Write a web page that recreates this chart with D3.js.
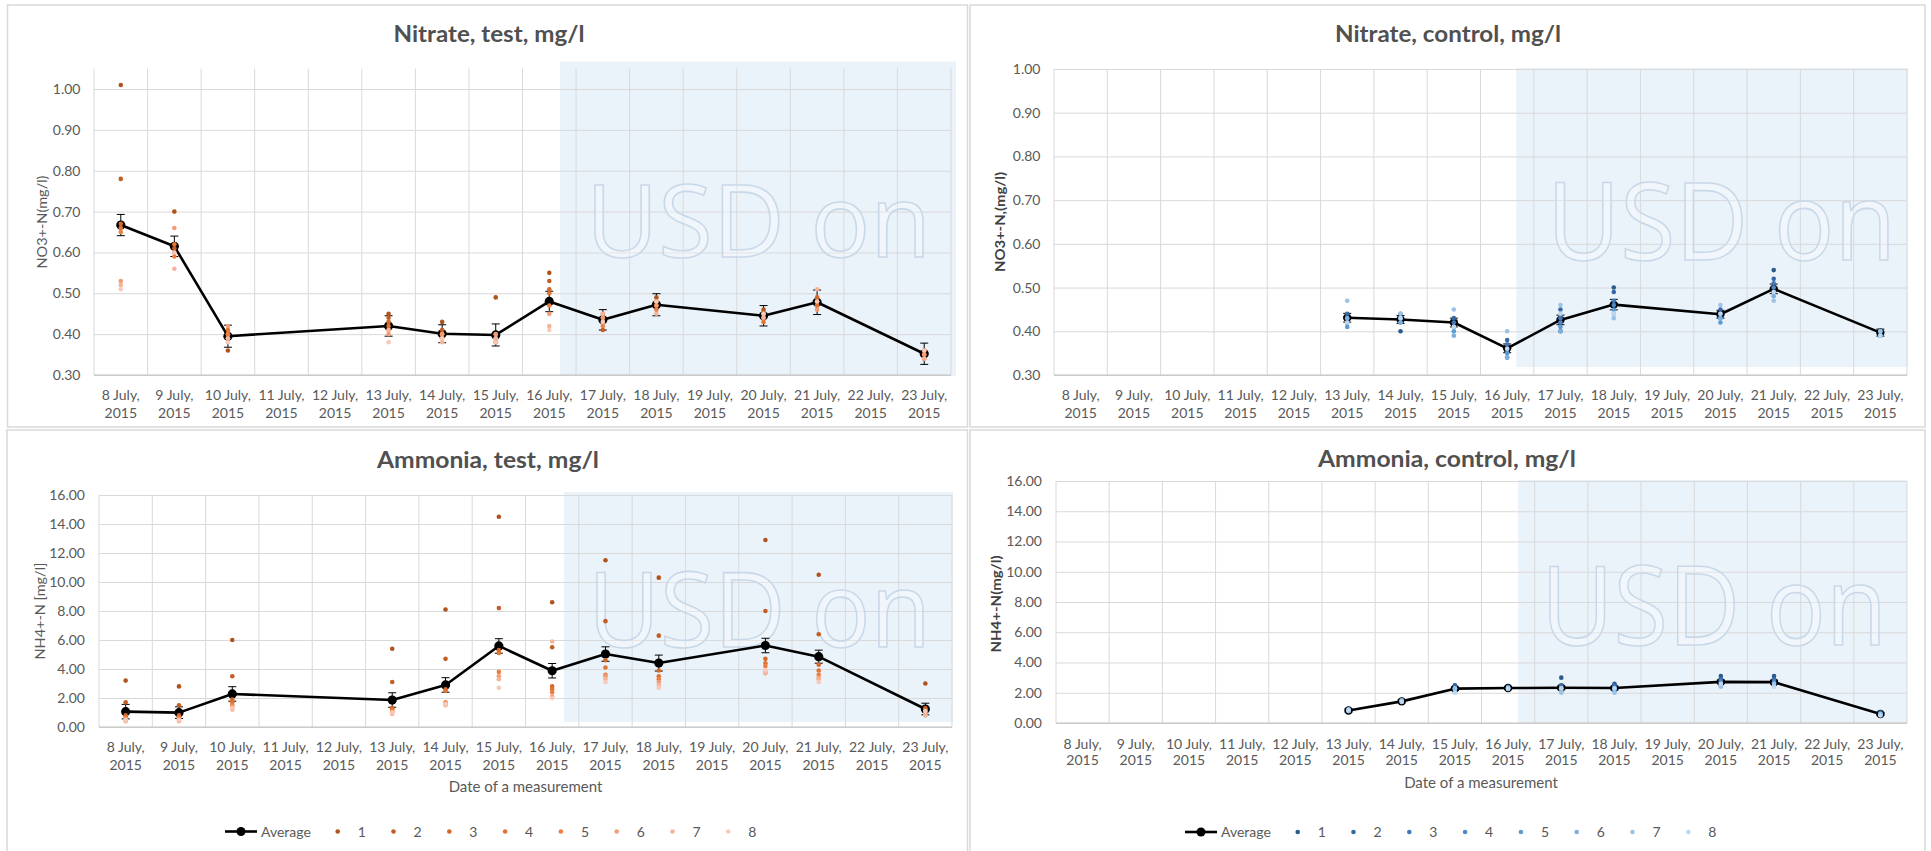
<!DOCTYPE html>
<html><head><meta charset="utf-8">
<script src="https://cdn.jsdelivr.net/npm/d3@7"></script>
<style>body{margin:0;background:#fff;overflow:hidden}</style>
</head><body>
<svg id="c" width="1931" height="851"></svg>
<script>
// ---------- DATA ----------
const categories = ["8 July, 2015","9 July, 2015","10 July, 2015","11 July, 2015","12 July, 2015","13 July, 2015","14 July, 2015","15 July, 2015","16 July, 2015","17 July, 2015","18 July, 2015","19 July, 2015","20 July, 2015","21 July, 2015","22 July, 2015","23 July, 2015"];
const seriesNames = ["Average","1","2","3","4","5","6","7","8"];
const nitrateTicks = [0.30,0.40,0.50,0.60,0.70,0.80,0.90,1.00];
const ammoniaTicks = [0,2,4,6,8,10,12,14,16];

// Nitrate, test
const nitrateTestAvg = [0.667,0.615,0.395,null,null,0.420,0.401,0.398,0.480,0.435,0.472,null,0.445,0.478,null,0.352];
const nitrateTestErr = [0.026,0.025,0.027,null,null,0.025,0.022,0.027,0.025,0.025,0.027,null,0.025,0.030,null,0.026];
const nitrateTestS1 = [1.01,0.70,0.36,null,null,0.45,0.43,0.49,0.55,0.45,0.49,null,0.46,0.47,null,0.35];
const nitrateTestS2 = [0.78,0.61,0.40,null,null,0.44,0.41,0.40,0.53,0.41,0.48,null,0.44,0.48,null,0.36];
const nitrateTestS3 = [0.67,0.60,0.39,null,null,0.43,0.40,0.38,0.51,0.43,0.47,null,0.45,0.49,null,0.34];
const nitrateTestS4 = [0.66,0.62,0.41,null,null,0.42,0.40,0.38,0.50,0.44,0.48,null,0.43,0.47,null,0.35];
const nitrateTestS5 = [0.65,0.59,0.40,null,null,0.41,0.39,0.39,0.47,0.42,0.46,null,0.44,0.48,null,0.36];
const nitrateTestS6 = [0.53,0.66,0.42,null,null,0.40,0.40,0.40,0.45,0.44,0.47,null,0.45,0.46,null,0.35];
const nitrateTestS7 = [0.52,0.56,0.39,null,null,0.41,0.38,0.39,0.42,0.45,0.45,null,0.44,0.51,null,0.34];
const nitrateTestS8 = [0.51,0.60,0.38,null,null,0.38,0.39,0.38,0.41,0.43,0.48,null,0.45,0.48,null,0.36];

// Nitrate, control
const nitrateCtrlAvg = [null,null,null,null,null,0.431,0.427,0.420,0.361,0.426,0.461,null,0.439,0.497,null,0.397];
const nitrateCtrlErr = [null,null,null,null,null,0.010,0.009,0.010,0.010,0.011,0.012,null,0.009,0.011,null,0.008];
const nitrateCtrlS1 = [null,null,null,null,null,0.42,0.40,0.41,0.34,0.40,0.50,null,0.44,0.54,null,0.40];
const nitrateCtrlS2 = [null,null,null,null,null,0.44,0.44,0.43,0.38,0.45,0.49,null,0.45,0.52,null,0.40];
const nitrateCtrlS3 = [null,null,null,null,null,0.43,0.43,0.42,0.37,0.43,0.47,null,0.44,0.51,null,0.39];
const nitrateCtrlS4 = [null,null,null,null,null,0.42,0.42,0.41,0.36,0.42,0.46,null,0.43,0.50,null,0.39];
const nitrateCtrlS5 = [null,null,null,null,null,0.41,0.43,0.40,0.35,0.41,0.45,null,0.42,0.49,null,0.40];
const nitrateCtrlS6 = [null,null,null,null,null,0.43,0.42,0.39,0.34,0.40,0.44,null,0.43,0.48,null,0.39];
const nitrateCtrlS7 = [null,null,null,null,null,0.47,0.44,0.45,0.40,0.46,0.43,null,0.46,0.47,null,0.40];
const nitrateCtrlS8 = [null,null,null,null,null,0.42,0.43,0.41,0.36,0.44,0.44,null,0.44,0.49,null,0.39];

// Ammonia, test
const ammoniaTestAvg = [1.06,0.99,2.28,null,null,1.86,2.90,5.59,3.88,5.03,4.41,null,5.62,4.85,null,1.24];
const ammoniaTestErr = [0.50,0.40,0.50,null,null,0.50,0.50,0.50,0.50,0.50,0.55,null,0.50,0.45,null,0.40];
const ammoniaTestS1 = [3.2,2.8,6.0,null,null,5.4,8.1,14.5,8.6,11.5,10.3,null,12.9,10.5,null,3.0];
const ammoniaTestS2 = [1.7,1.5,3.5,null,null,3.1,4.7,8.2,5.5,7.3,6.3,null,8.0,6.4,null,1.3];
const ammoniaTestS3 = [0.8,0.8,1.9,null,null,1.3,2.6,5.3,2.8,4.6,3.9,null,4.7,4.3,null,1.2];
const ammoniaTestS4 = [0.7,0.7,1.7,null,null,1.2,2.5,5.1,2.6,4.1,3.5,null,4.4,3.9,null,1.1];
const ammoniaTestS5 = [0.6,0.6,1.5,null,null,1.1,1.7,3.8,2.4,3.6,3.3,null,4.2,3.6,null,1.0];
const ammoniaTestS6 = [0.5,0.5,1.4,null,null,1.0,1.6,3.5,2.1,3.5,3.1,null,3.8,3.4,null,0.9];
const ammoniaTestS7 = [0.4,0.4,1.2,null,null,0.9,1.5,3.3,5.9,3.3,2.9,null,3.7,3.3,null,0.8];
const ammoniaTestS8 = [0.5,0.5,1.3,null,null,1.0,1.6,2.7,2.0,3.1,2.7,null,3.9,3.1,null,1.1];

// Ammonia, control
const ammoniaCtrlAvg = [null,null,null,null,null,0.83,1.43,2.27,2.31,2.33,2.31,null,2.72,2.70,null,0.60];
const ammoniaCtrlErr = [null,null,null,null,null,0.10,0.10,0.12,0.10,0.12,0.12,null,0.12,0.12,null,0.08];
const ammoniaCtrlS1 = [null,null,null,null,null,0.90,1.50,2.50,2.40,3.00,2.60,null,3.10,3.10,null,0.70];
const ammoniaCtrlS2 = [null,null,null,null,null,0.85,1.45,2.40,2.35,2.50,2.50,null,2.90,2.90,null,0.65];
const ammoniaCtrlS3 = [null,null,null,null,null,0.80,1.40,2.30,2.30,2.40,2.40,null,2.80,2.80,null,0.60];
const ammoniaCtrlS4 = [null,null,null,null,null,0.85,1.45,2.20,2.25,2.30,2.30,null,2.70,2.70,null,0.55];
const ammoniaCtrlS5 = [null,null,null,null,null,0.80,1.40,2.10,2.30,2.20,2.20,null,2.60,2.60,null,0.60];
const ammoniaCtrlS6 = [null,null,null,null,null,0.90,1.50,2.20,2.35,2.10,2.10,null,2.50,2.50,null,0.55];
const ammoniaCtrlS7 = [null,null,null,null,null,0.80,1.45,2.30,2.25,2.00,2.00,null,2.40,2.60,null,0.60];
const ammoniaCtrlS8 = [null,null,null,null,null,0.85,1.40,2.00,2.30,2.30,2.30,null,2.60,2.40,null,0.50];

const orangePalette = ["#B0531C","#C25E24","#D2692B","#DF7433","#EC7F3F","#F19C74","#F5B39A","#F8C9B9"];
const bluePalette = ["#2C5A8C","#3768A5","#4477B8","#4F86C5","#5B9BD5","#7DAFE0","#9CC3E6","#BDD7EE"];

// ---------- DRAW ----------
const svg = d3.select("#c");
const FONT = "Lato, 'Open Sans', sans-serif";
const TXT = "#595959";

function drawPanel(p) {
  const g = svg.append("g");
  g.append("rect").attr("x", p.box[0]).attr("y", p.box[1]).attr("width", p.box[2]).attr("height", p.box[3])
    .attr("fill", "#fff").attr("stroke", "#D9D9D9").attr("stroke-width", 1.5);

  const x = d3.scaleBand().domain(categories).range([p.plot.l, p.plot.r]);
  const y = d3.scaleLinear().domain(p.yDomain).range([p.plot.b, p.plot.t]);
  const bw = x.bandwidth();
  const cx = c => x(c) + bw / 2;

  // highlighted "USD on" period
  const hx0 = x(p.hl.from) + bw * p.hl.frac;
  const hy0 = p.plot.t + p.hl.dt, hy1 = p.plot.b + p.hl.db;
  g.append("rect").attr("x", hx0).attr("y", hy0).attr("width", p.plot.r + p.hl.dr - hx0).attr("height", hy1 - hy0)
    .attr("fill", "#EAF2FA");

  // vertical gridlines at category boundaries
  const vlines = categories.map(c => x(c)).concat([p.plot.r]);
  g.selectAll(null).data(vlines).join("line")
    .attr("x1", d => d).attr("x2", d => d).attr("y1", p.plot.t).attr("y2", p.plot.b)
    .attr("stroke", "#D9D9D9").attr("stroke-width", 1);

  // y axis with gridlines
  const ya = d3.axisLeft(y).tickValues(p.ticks).tickFormat(d3.format(".2f"))
    .tickSize(-(p.plot.r - p.plot.l)).tickPadding(p.tickPad);
  const yg = g.append("g").attr("transform", `translate(${p.plot.l},0)`).call(ya);
  yg.select(".domain").remove();
  yg.selectAll(".tick line").attr("stroke", "#D9D9D9").attr("stroke-width", 1);
  yg.selectAll(".tick text").attr("fill", TXT).style("font-family", FONT).style("font-size", "14px");
  g.append("line").attr("x1", p.plot.l).attr("x2", p.plot.r).attr("y1", y(p.ticks[0])).attr("y2", y(p.ticks[0]))
    .attr("stroke", "#BFBFBF").attr("stroke-width", 1.2);

  // x axis (two-line labels)
  const xa = d3.axisBottom(x).tickSize(0).tickPadding(0);
  const xg = g.append("g").attr("transform", `translate(0,${p.plot.b})`).call(xa);
  xg.select(".domain").remove();
  xg.selectAll(".tick text").each(function (d) {
    const t = d3.select(this);
    const parts = d.split(", ");
    t.text(null).attr("y", 0).attr("dy", null).attr("fill", TXT)
      .style("font-family", FONT).style("font-size", "14px");
    t.append("tspan").attr("x", 0).attr("y", p.xl[0]).text(parts[0] + ",");
    t.append("tspan").attr("x", 0).attr("y", p.xl[1]).text(parts[1]);
  });

  // watermark
  g.append("text").attr("x", p.wm.x).attr("y", p.wm.y)
    .attr("textLength", p.wm.w).attr("lengthAdjust", "spacingAndGlyphs")
    .style("font-family", "'Open Sans', sans-serif").style("font-size", p.wm.size + "px")
    .attr("fill", "rgba(255,255,255,0.3)").attr("stroke", "#C9D8E8").attr("stroke-width", 1.6)
    .text("USD on");

  // titles
  g.append("text").attr("x", p.title.x).attr("y", p.title.y).attr("text-anchor", "middle")
    .attr("textLength", p.title.w).attr("lengthAdjust", "spacingAndGlyphs")
    .style("font-family", FONT).style("font-weight", 700).style("font-size", p.title.size + "px")
    .attr("fill", "#505050").text(p.title.text);
  g.append("text").attr("transform", `translate(${p.yTitle.x},${p.yTitle.y}) rotate(-90)`)
    .attr("text-anchor", "middle").attr("dy", "0.35em")
    .attr("textLength", p.yTitle.w).attr("lengthAdjust", "spacingAndGlyphs")
    .style("font-family", FONT).style("font-size", "14px").style("font-weight", p.yTitle.bold ? 700 : 400)
    .attr("fill", p.yTitle.bold ? "#404040" : TXT).text(p.yTitle.text);
  if (p.xTitle) {
    g.append("text").attr("x", p.xTitle.x).attr("y", p.xTitle.y).attr("text-anchor", "middle")
      .style("font-family", FONT).style("font-size", "15px").attr("fill", TXT).text("Date of a measurement");
  }

  // data
  const avgPts = categories.map((c, i) => ({ c, v: p.avg[i], e: p.err[i] })).filter(d => d.v != null);
  const eb = g.append("g");
  avgPts.forEach(d => {
    const y0 = y(d.v - d.e), y1 = y(d.v + d.e), xc = cx(d.c);
    eb.append("line").attr("x1", xc).attr("x2", xc).attr("y1", y0).attr("y2", y1).attr("stroke", "#000").attr("stroke-width", 1);
    [y0, y1].forEach(yy => eb.append("line").attr("x1", xc - 4).attr("x2", xc + 4).attr("y1", yy).attr("y2", yy)
      .attr("stroke", "#000").attr("stroke-width", 1));
  });
  g.append("path").datum(avgPts)
    .attr("d", d3.line().x(d => cx(d.c)).y(d => y(d.v)))
    .attr("fill", "none").attr("stroke", "#000").attr("stroke-width", 2.6).attr("stroke-linejoin", "round");
  g.selectAll(null).data(avgPts).join("circle")
    .attr("cx", d => cx(d.c)).attr("cy", d => y(d.v)).attr("r", p.avgR)
    .attr("fill", "#000");
  p.samples.forEach((arr, si) => {
    const pts = categories.map((c, i) => ({ c, v: arr[i] })).filter(d => d.v != null);
    g.selectAll(null).data(pts).join("circle")
      .attr("cx", d => cx(d.c)).attr("cy", d => y(d.v)).attr("r", 2.3)
      .attr("fill", p.palette[si]);
  });

  // legend
  if (p.legend) {
    const L = p.legend;
    const lg = g.append("g").style("font-family", FONT).style("font-size", "14px");
    lg.append("line").attr("x1", L.x).attr("x2", L.x + 32).attr("y1", L.y).attr("y2", L.y).attr("stroke", "#000").attr("stroke-width", 2.6);
    lg.append("circle").attr("cx", L.x + 16).attr("cy", L.y).attr("r", 4.5).attr("fill", "#000");
    lg.append("text").attr("x", L.x + 36).attr("y", L.y + 5).attr("fill", TXT).text(seriesNames[0]);
    seriesNames.slice(1).forEach((n, i) => {
      const dx = L.dot0 + i * L.step;
      lg.append("circle").attr("cx", dx).attr("cy", L.y).attr("r", 2.3).attr("fill", p.palette[i]);
      lg.append("text").attr("x", dx + 20).attr("y", L.y + 5).attr("fill", TXT).text(n);
    });
  }
}

drawPanel({
  box: [7.5, 5, 960, 422],
  plot: { l: 94, r: 951, t: 68.6, b: 375 }, yDomain: [0.3, 1.05], ticks: nitrateTicks, tickPad: 13.5,
  xl: [24.5, 42.5],
  hl: { from: "16 July, 2015", frac: 0.7, dt: -7, dr: 5, db: 1 },
  wm: { x: 586, y: 257, size: 101, w: 345 },
  title: { text: "Nitrate, test, mg/l", x: 489, y: 42, w: 191, size: 22 },
  yTitle: { text: "NO3+-N(mg/l)", x: 42, y: 222, w: 93, bold: false },
  avg: nitrateTestAvg, err: nitrateTestErr, avgR: 4.6,
  samples: [nitrateTestS1, nitrateTestS2, nitrateTestS3, nitrateTestS4, nitrateTestS5, nitrateTestS6, nitrateTestS7, nitrateTestS8],
  palette: orangePalette
});
drawPanel({
  box: [970, 5, 955, 422],
  plot: { l: 1054, r: 1907, t: 69, b: 375 }, yDomain: [0.3, 1.0], ticks: nitrateTicks, tickPad: 13.5,
  xl: [24.5, 42.5],
  hl: { from: "16 July, 2015", frac: 0.67, dt: -1, dr: 1, db: -8 },
  wm: { x: 1547, y: 260, size: 108, w: 349 },
  title: { text: "Nitrate, control, mg/l", x: 1448, y: 42, w: 226, size: 23 },
  yTitle: { text: "NO3+-N,(mg/l)", x: 1000, y: 222, w: 100, bold: true },
  avg: nitrateCtrlAvg, err: nitrateCtrlErr, avgR: 4.2,
  samples: [nitrateCtrlS1, nitrateCtrlS2, nitrateCtrlS3, nitrateCtrlS4, nitrateCtrlS5, nitrateCtrlS6, nitrateCtrlS7, nitrateCtrlS8],
  palette: bluePalette
});
drawPanel({
  box: [7, 430, 960.5, 425],
  plot: { l: 99, r: 952, t: 495, b: 727 }, yDomain: [0, 16], ticks: ammoniaTicks, tickPad: 14,
  xl: [25, 43],
  hl: { from: "16 July, 2015", frac: 0.72, dt: -3, dr: 1, db: -5 },
  wm: { x: 588, y: 647, size: 105, w: 343 },
  title: { text: "Ammonia, test, mg/l", x: 488, y: 467.5, w: 222, size: 22 },
  yTitle: { text: "NH4+-N [mg/l]", x: 40, y: 611, w: 97, bold: false },
  xTitle: { x: 525.5, y: 792 },
  legend: { x: 225, y: 831.5, dot0: 337.7, step: 55.8 },
  avg: ammoniaTestAvg, err: ammoniaTestErr, avgR: 4.6,
  samples: [ammoniaTestS1, ammoniaTestS2, ammoniaTestS3, ammoniaTestS4, ammoniaTestS5, ammoniaTestS6, ammoniaTestS7, ammoniaTestS8],
  palette: orangePalette
});
drawPanel({
  box: [970, 430, 955, 425],
  plot: { l: 1056, r: 1907, t: 481, b: 723 }, yDomain: [0, 16], ticks: ammoniaTicks, tickPad: 14,
  xl: [26, 42],
  hl: { from: "16 July, 2015", frac: 0.69, dt: -1, dr: 0, db: 1 },
  wm: { x: 1541, y: 645, size: 109, w: 346 },
  title: { text: "Ammonia, control, mg/l", x: 1447, y: 467, w: 258, size: 23 },
  yTitle: { text: "NH4+-N(mg/l)", x: 996, y: 604, w: 97, bold: true },
  xTitle: { x: 1481, y: 788 },
  legend: { x: 1185, y: 832, dot0: 1297.7, step: 55.8 },
  avg: ammoniaCtrlAvg, err: ammoniaCtrlErr, avgR: 4.2,
  samples: [ammoniaCtrlS1, ammoniaCtrlS2, ammoniaCtrlS3, ammoniaCtrlS4, ammoniaCtrlS5, ammoniaCtrlS6, ammoniaCtrlS7, ammoniaCtrlS8],
  palette: bluePalette
});
</script>
</body></html>
